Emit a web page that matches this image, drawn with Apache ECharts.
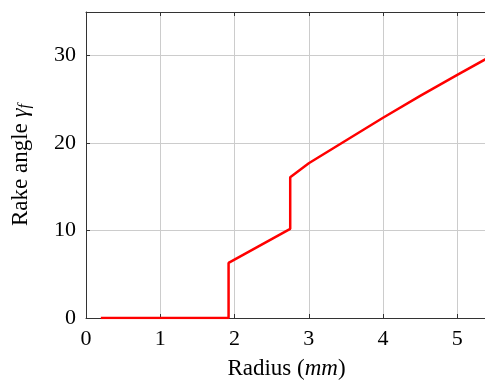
<!DOCTYPE html>
<html>
<head>
<meta charset="utf-8">
<script src="https://cdn.jsdelivr.net/npm/echarts@6/dist/echarts.min.js"></script>
<style>
  html, body { margin: 0; padding: 0; background: #fff; }
  #container { width: 485px; height: 380px; }
</style>
</head>
<body>
<div id="container"></div>
<script>
const radius = [0.2, 1.92, 1.92, 2.75, 2.75, 3.0, 3.5, 4.0, 4.5, 5.0, 5.4]
const rake = [0, 0, 6.3, 10.2, 16.1, 17.7, 20.3, 22.9, 25.4, 27.8, 29.7]

const xTicks = [0, 1, 2, 3, 4, 5]
const yTicks = [0, 10, 20, 30]

const font = 'Liberation Serif'
const axisColor = '#333'
const gridColor = '#cccccc'

const chart = echarts.init(document.getElementById('container'), null, { renderer: 'canvas' })

const points = radius.map((r, i) => [r, rake[i]])

chart.setOption({
    animation: false,
    backgroundColor: '#fff',
    grid: {
        left: 86,
        right: -2,
        top: 12,
        bottom: 62,
        outerBoundsMode: 'none'
    },
    xAxis: [
        {
            type: 'value',
            min: 0,
            max: 5.4,
            interval: 1,
            name: 'Radius ({it|mm})',
            nameLocation: 'middle',
            nameGap: 39,
            nameTextStyle: {
                fontFamily: font,
                fontSize: 23,
                color: '#000',
                rich: {
                    it: { fontFamily: font, fontSize: 23, fontStyle: 'italic', color: '#000' }
                }
            },
            axisLine: { show: true, lineStyle: { color: axisColor, width: 1 } },
            axisTick: { show: true, inside: true, length: 4, lineStyle: { color: axisColor } },
            splitLine: { show: true, lineStyle: { color: gridColor, width: 1 } },
            axisLabel: {
                fontFamily: font,
                fontSize: 22,
                color: '#000',
                margin: 10,
                showMaxLabel: false,
                formatter: (v) => xTicks.includes(v) ? String(v) : ''
            }
        },
        {
            type: 'value',
            position: 'top',
            min: 0,
            max: 5.4,
            interval: 1,
            axisLine: { show: true, onZero: false, lineStyle: { color: axisColor, width: 1 } },
            axisTick: { show: true, inside: true, length: 4, lineStyle: { color: axisColor } },
            axisLabel: { show: false },
            splitLine: { show: false }
        }
    ],
    yAxis: {
        type: 'value',
        min: 0,
        max: 35,
        interval: 10,
        name: 'Rake angle {g|γ}{sub|f}',
        nameLocation: 'middle',
        nameGap: 53,
        nameTextStyle: {
            fontFamily: font,
            fontSize: 23,
            color: '#000',
            rich: {
                g: { fontFamily: font, fontSize: 23, fontStyle: 'italic', color: '#000' },
                sub: { fontFamily: font, fontSize: 16, fontStyle: 'italic', color: '#000', verticalAlign: 'bottom', padding: [8, 0, 0, 0] }
            }
        },
        axisLine: { show: true, lineStyle: { color: axisColor, width: 1 } },
        axisTick: { show: true, inside: true, length: 4, lineStyle: { color: axisColor } },
        splitLine: { show: true, lineStyle: { color: gridColor, width: 1 } },
        axisLabel: {
            fontFamily: font,
            fontSize: 22,
            color: '#000',
            margin: 10,
            formatter: (v) => yTicks.includes(v) ? String(v) : ''
        }
    },
    series: [
        {
            type: 'line',
            data: points,
            showSymbol: false,
            smooth: false,
            clip: true,
            lineStyle: { color: '#ff0000', width: 2.5 },
            itemStyle: { color: '#ff0000' }
        }
    ]
})
</script>
</body>
</html>
